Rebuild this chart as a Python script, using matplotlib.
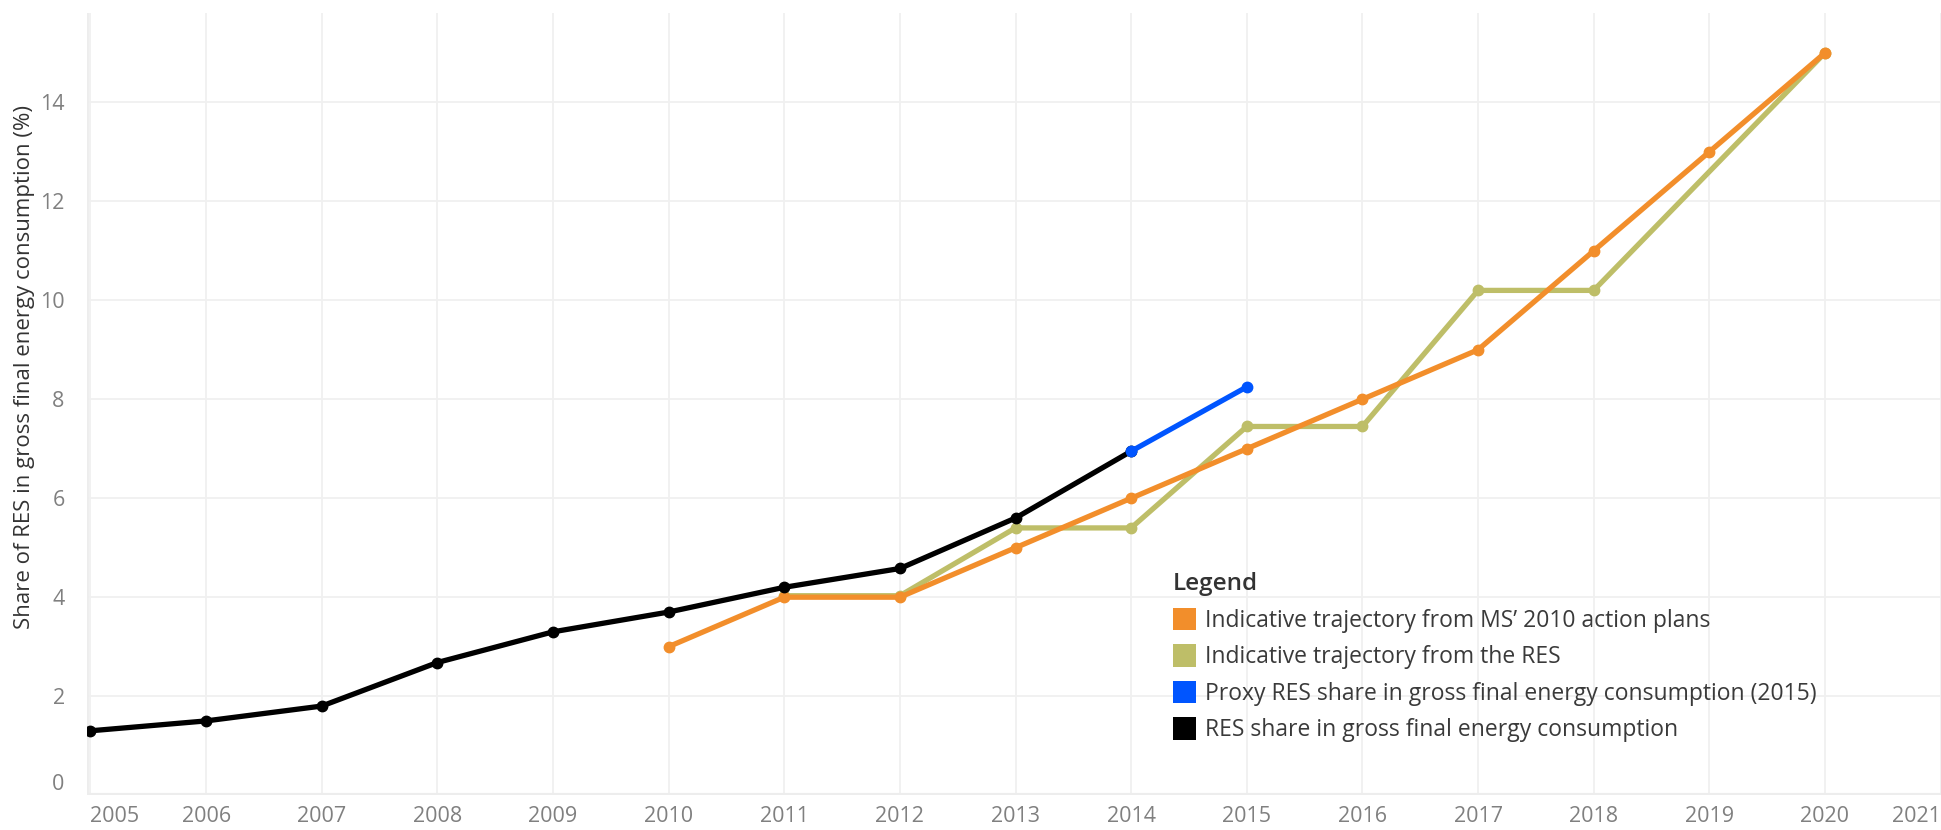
import matplotlib
matplotlib.use("Agg")
import matplotlib.pyplot as plt
from matplotlib.patches import Patch

plt.rcParams["font.family"] = ["Open Sans", "DejaVu Sans"]

years_res = [2005, 2006, 2007, 2008, 2009, 2010, 2011, 2012, 2013, 2014]
res_share = [1.3, 1.5, 1.8, 2.68, 3.3, 3.7, 4.2, 4.58, 5.6, 6.95]

years_proxy = [2014, 2015]
proxy_share = [6.95, 8.25]

years_ms = [2010, 2011, 2012, 2013, 2014, 2015, 2016, 2017, 2018, 2019, 2020]
ms_traj = [3.0, 4.0, 4.0, 5.0, 6.0, 7.0, 8.0, 9.0, 11.0, 13.0, 15.0]

years_red = [2011, 2012, 2013, 2014, 2015, 2016, 2017, 2018, 2020]
red_traj = [4.03, 4.03, 5.4, 5.4, 7.45, 7.45, 10.2, 10.2, 15.0]

labels = [
    "Indicative trajectory from MS\u2019 2010 action plans",
    "Indicative trajectory from the RES",
    "Proxy RES share in gross final energy consumption (2015)",
    "RES share in gross final energy consumption",
]
colors = ["#F28E2B", "#BEBE68", "#0055FF", "#000000"]

fig = plt.figure(figsize=(19.41, 8.30), dpi=100)
ax = fig.add_axes([0.0448, 0.042, 0.955, 0.942])

kw = dict(lw=3.8, marker="o", ms=7.5)
ax.plot(years_red, red_traj, color=colors[1], zorder=3, **kw)
ax.plot(years_ms, ms_traj, color=colors[0], zorder=4, **kw)
ax.plot(years_res, res_share, color=colors[3], zorder=5, **kw)
ax.plot(years_proxy, proxy_share, color=colors[2], zorder=6, **kw)

ax.set_xlim(2004.97, 2021)
ax.set_ylim(0, 15.8)
ax.set_xticks(range(2005, 2022))
ax.set_yticks(range(0, 15, 2))
ax.grid(True, color="#F0F0F0", lw=1.3)
ax.set_axisbelow(True)
ax.axhline(0, color="#EDEDED", lw=3, zorder=1)
ax.axvline(2004.97, color="#EDEDED", lw=2, zorder=1)
for s in ax.spines.values():
    s.set_visible(False)
ax.tick_params(length=0, labelsize=15.5, labelcolor="#808080")
ax.tick_params(axis="x", pad=8)
ax.tick_params(axis="y", pad=16)

xt = ax.xaxis.get_major_ticks()
xt[0].label1.set_horizontalalignment("left")
xt[-1].label1.set_horizontalalignment("right")
ax.yaxis.get_major_ticks()[0].label1.set_verticalalignment("bottom")

ax.set_ylabel("Share of RES in gross final energy consumption (%)",
              fontsize=16, color="#333333")
ax.yaxis.set_label_coords(-0.028, 0.548)

handles = [Patch(facecolor=c, edgecolor="none") for c in colors]
leg = ax.legend(handles, labels, title="Legend", loc="upper left",
                bbox_to_anchor=(0.581, 0.297), frameon=False, fontsize=16.5,
                title_fontsize=17.5, handlelength=1.0, handleheight=1.15,
                handletextpad=0.4, labelspacing=0.5, borderaxespad=0)
leg._legend_box.align = "left"
for t in leg.get_texts():
    t.set_color("#3A3A3A")
leg.get_title().set_color("#333333")
leg.get_title().set_fontweight("semibold")

fig.savefig("out.png", dpi=100)
